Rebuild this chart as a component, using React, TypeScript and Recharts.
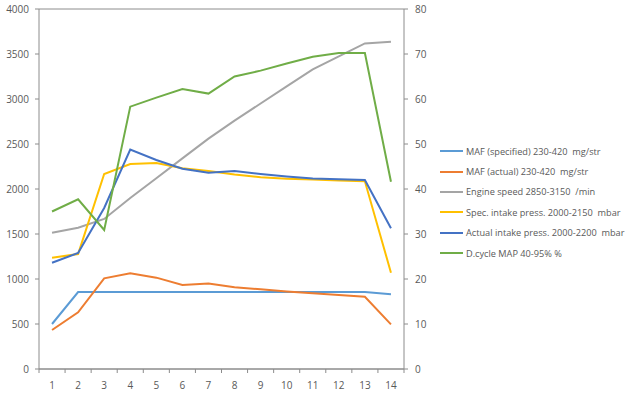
import React from "react";
import { ComposedChart, Line, XAxis, YAxis, CartesianGrid } from "recharts";

const categories = [1, 2, 3, 4, 5, 6, 7, 8, 9, 10, 11, 12, 13, 14];
const mafSpecified = [500, 855, 855, 855, 855, 855, 855, 855, 855, 855, 855, 855, 855, 830];
const mafActual = [433, 630, 1007, 1065, 1015, 933, 950, 908, 885, 860, 841, 822, 803, 496];
const engineSpeed = [1514, 1570, 1667, 1900, 2120, 2340, 2560, 2760, 2950, 3140, 3330, 3474, 3618, 3637];
const specIntake = [1237, 1278, 2167, 2278, 2288, 2230, 2200, 2160, 2130, 2115, 2105, 2095, 2085, 1070];
const actualIntake = [1181, 1289, 1789, 2438, 2322, 2225, 2181, 2200, 2167, 2140, 2118, 2108, 2100, 1563];
const dCycle = [35.0, 37.7, 30.9, 58.3, 60.3, 62.2, 61.2, 65.0, 66.3, 67.9, 69.4, 70.2, 70.2, 41.6];

const leftTicks = [0, 500, 1000, 1500, 2000, 2500, 3000, 3500, 4000];
const rightTicks = [0, 10, 20, 30, 40, 50, 60, 70, 80];

const seriesInfo = [
  { key: "mafSpecified", name: "MAF (specified) 230-420  mg/str", color: "#5B9BD5", axis: "left" },
  { key: "mafActual", name: "MAF (actual) 230-420  mg/str", color: "#ED7D31", axis: "left" },
  { key: "engineSpeed", name: "Engine speed 2850-3150  /min", color: "#A5A5A5", axis: "left" },
  { key: "specIntake", name: "Spec. intake press. 2000-2150  mbar", color: "#FFC000", axis: "left" },
  { key: "actualIntake", name: "Actual intake press. 2000-2200  mbar", color: "#4472C4", axis: "left" },
  { key: "dCycle", name: "D.cycle MAP 40-95% %", color: "#70AD47", axis: "right" },
];

const data = categories.map((c, i) => ({
  cat: c,
  mafSpecified: mafSpecified[i],
  mafActual: mafActual[i],
  engineSpeed: engineSpeed[i],
  specIntake: specIntake[i],
  actualIntake: actualIntake[i],
  dCycle: dCycle[i],
}));

const W = 640;
const H = 396;
const PLOT_LEFT = 39;
const PLOT_RIGHT = 404;
const PLOT_TOP = 9;
const PLOT_BOTTOM = 369;
const BAND = (PLOT_RIGHT - PLOT_LEFT) / categories.length;
const AXIS_COLOR = "#8C8C8C";
const TEXT_COLOR = "#595959";
const FONT = "'Open Sans', sans-serif";

const XTick = (props: any) => {
  const { x, payload, index } = props;
  const last = index === categories.length - 1;
  return (
    <g>
      <line x1={x - BAND / 2} x2={x - BAND / 2} y1={PLOT_BOTTOM} y2={PLOT_BOTTOM + 4} stroke={AXIS_COLOR} />
      {last && (
        <line x1={x + BAND / 2} x2={x + BAND / 2} y1={PLOT_BOTTOM} y2={PLOT_BOTTOM + 4} stroke={AXIS_COLOR} />
      )}
      <text x={x} y={PLOT_BOTTOM + 20} textAnchor="middle" fill={TEXT_COLOR} fontSize={10} fontFamily={FONT}>
        {payload.value}
      </text>
    </g>
  );
};

const LegendBox = () => (
  <div
    style={{
      position: "absolute",
      left: 440,
      top: 141,
      fontFamily: FONT,
      fontSize: 9.2,
      color: TEXT_COLOR,
    }}
  >
    {seriesInfo.map((s) => (
      <div key={s.key} style={{ display: "flex", alignItems: "center", height: 20.4 }}>
        <div style={{ width: 23, height: 2, background: s.color, marginRight: 3 }} />
        <span style={{ whiteSpace: "pre" }}>{s.name}</span>
      </div>
    ))}
  </div>
);

export default function App() {
  return (
    <div style={{ position: "absolute", left: 0, top: 0, width: W, height: H, background: "#fff" }}>
      <ComposedChart
        width={W}
        height={H}
        data={data}
        margin={{ top: PLOT_TOP, right: W - PLOT_RIGHT - 30, bottom: 0, left: 0 }}
      >
        <CartesianGrid vertical={false} stroke={AXIS_COLOR} strokeWidth={1} />
        <XAxis
          dataKey="cat"
          height={H - PLOT_BOTTOM}
          stroke={AXIS_COLOR}
          tickLine={false}
          tick={<XTick />}
          interval={0}
          padding={{ left: BAND / 2, right: BAND / 2 }}
        />
        <YAxis
          yAxisId="left"
          domain={[0, 4000]}
          ticks={leftTicks}
          width={PLOT_LEFT}
          stroke={AXIS_COLOR}
          tickSize={4}
          tickMargin={6}
          tick={{ fill: TEXT_COLOR, fontSize: 10, fontFamily: FONT }}
          interval={0}
        />
        <YAxis
          yAxisId="right"
          orientation="right"
          domain={[0, 80]}
          ticks={rightTicks}
          width={30}
          stroke={AXIS_COLOR}
          tickSize={4}
          tickMargin={7}
          tick={{ fill: TEXT_COLOR, fontSize: 10, fontFamily: FONT }}
          interval={0}
        />
        {seriesInfo.map((s) => (
          <Line
            key={s.key}
            yAxisId={s.axis}
            type="linear"
            dataKey={s.key}
            name={s.name}
            stroke={s.color}
            strokeWidth={2}
            dot={false}
            activeDot={false}
            isAnimationActive={false}
          />
        ))}
      </ComposedChart>
      <LegendBox />
    </div>
  );
}
